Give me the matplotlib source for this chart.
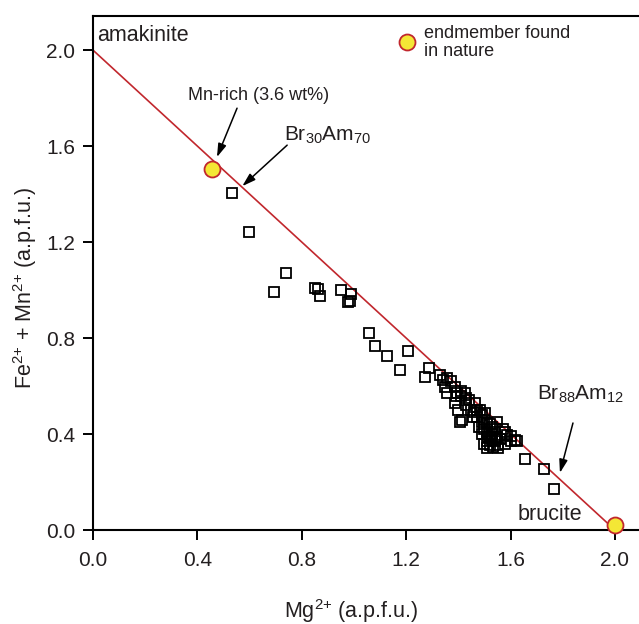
import matplotlib
matplotlib.use("Agg")
import matplotlib.pyplot as plt

plt.rcParams["font.family"] = ["Liberation Sans", "DejaVu Sans"]
plt.rcParams["mathtext.default"] = "regular"

TEXT_COLOR = "#231f20"
LINE_RED = "#c1272d"
YELLOW = "#f4e735"

# Mg vs Fe+Mn (a.p.f.u.) for the analysed grains
mg_apfu = [0.533, 0.598, 0.740, 0.694, 0.850, 0.862, 0.870, 0.950, 0.988, 0.977,
           0.985, 1.058, 1.080, 1.126, 1.207, 1.176, 1.287, 1.272, 1.330, 1.356,
           1.349, 1.356, 1.387, 1.395, 1.387, 1.425, 1.410, 1.464, 1.456, 1.406,
           1.414, 1.483, 1.502, 1.510, 1.548, 1.513, 1.529, 1.548, 1.579, 1.586,
           1.617, 1.521, 1.552, 1.510, 1.533, 1.655, 1.728, 1.766, 1.440, 1.470,
           1.490, 1.500, 1.520, 1.540, 1.430, 1.500, 1.530, 1.560, 1.580, 1.490,
           1.510, 1.550, 1.600, 1.410, 1.370, 1.450, 1.400, 1.340, 1.625, 1.470,
           1.490, 1.510, 1.530, 1.500, 1.540, 1.520, 1.480, 1.460, 1.430, 1.390,
           1.570, 1.600]
femn_apfu = [1.405, 1.240, 1.072, 0.990, 1.008, 1.004, 0.975, 1.000, 0.983, 0.950,
             0.955, 0.821, 0.767, 0.725, 0.744, 0.667, 0.675, 0.638, 0.645, 0.633,
             0.596, 0.571, 0.596, 0.571, 0.529, 0.571, 0.560, 0.529, 0.471, 0.450,
             0.458, 0.500, 0.487, 0.446, 0.450, 0.388, 0.375, 0.388, 0.408, 0.396,
             0.375, 0.354, 0.354, 0.342, 0.346, 0.296, 0.254, 0.171, 0.540, 0.500,
             0.480, 0.460, 0.440, 0.420, 0.520, 0.420, 0.400, 0.380, 0.360, 0.400,
             0.370, 0.340, 0.370, 0.580, 0.620, 0.500, 0.500, 0.625, 0.370, 0.470,
             0.450, 0.410, 0.430, 0.360, 0.370, 0.390, 0.430, 0.490, 0.550, 0.560,
             0.420, 0.390]

# ideal brucite-amakinite join
join_mg = [0.0, 2.0]
join_femn = [2.0, 0.0]

# endmembers found in nature
nature_mg = [0.455, 2.0]
nature_femn = [1.503, 0.02]

ticks = [0.0, 0.4, 0.8, 1.2, 1.6, 2.0]

fig = plt.figure(figsize=(6.39, 6.24), dpi=100)
ax = fig.add_axes([0.1455, 0.1506, 0.8545, 0.8237])

ax.plot(join_mg, join_femn, color=LINE_RED, lw=1.2, zorder=2)
ax.plot(mg_apfu, femn_apfu, ls="none", marker="s", ms=7.5, mfc="none",
        mec="black", mew=1.3, zorder=3)
ax.plot(nature_mg, nature_femn, ls="none", marker="o", ms=11.5, mfc=YELLOW,
        mec=LINE_RED, mew=1.3, zorder=5, clip_on=False)

# legend entry
ax.plot([1.203], [2.033], ls="none", marker="o", ms=11.5, mfc=YELLOW,
        mec=LINE_RED, mew=1.3, zorder=5)
ax.text(1.27, 2.031, "endmember found\nin nature", fontsize=13, color=TEXT_COLOR,
        va="center", ha="left", linespacing=1.1)

ax.text(0.015, 2.06, "amakinite", fontsize=15.5, color=TEXT_COLOR, ha="left", va="center")
ax.text(1.625, 0.063, "brucite", fontsize=15.5, color=TEXT_COLOR, ha="left", va="center")

arrow = dict(arrowstyle="-|>,head_length=0.8,head_width=0.25", color="black", lw=1.1,
             shrinkA=0, shrinkB=0)
ax.text(0.636, 1.812, "Mn-rich (3.6 wt%)", fontsize=13, color=TEXT_COLOR,
        ha="center", va="center")
ax.annotate("", xy=(0.475, 1.554), xytext=(0.552, 1.758), arrowprops=arrow)
ax.annotate("", xy=(0.572, 1.433), xytext=(0.744, 1.604), arrowprops=arrow)
ax.text(0.73, 1.60, "Br$_{30}$Am$_{70}$", fontsize=15, color=TEXT_COLOR,
        ha="left", va="bottom")
ax.annotate("", xy=(1.789, 0.238), xytext=(1.839, 0.446), arrowprops=arrow)
ax.text(1.70, 0.52, "Br$_{88}$Am$_{12}$", fontsize=15, color=TEXT_COLOR,
        ha="left", va="bottom")

ax.set_xlim(0, 2.092)
ax.set_ylim(0, 2.142)
ax.set_xticks(ticks)
ax.set_yticks(ticks)
ax.set_xticklabels([f"{t:.1f}" for t in ticks])
ax.set_yticklabels([f"{t:.1f}" for t in ticks])
ax.tick_params(direction="out", length=7, width=1.4, labelsize=15,
               colors="black", labelcolor=TEXT_COLOR)
ax.tick_params(axis="x", pad=8)
ax.tick_params(axis="y", pad=6)
ax.spines["right"].set_visible(False)
for side in ("left", "top", "bottom"):
    ax.spines[side].set_linewidth(1.5)

# axis titles placed in figure pixels
W, H = 639, 624
fig.text(351 / W, 1 - 611 / H, "Mg$^{2{+}}$ (a.p.f.u.)", fontsize=15.5,
         color=TEXT_COLOR, ha="center", va="center")
fig.text(25 / W, 1 - 288 / H, "Fe$^{2{+}}$ + Mn$^{2{+}}$ (a.p.f.u.)", fontsize=15.5,
         color=TEXT_COLOR, ha="center", va="center", rotation=90)

fig.savefig("out.png", dpi=100)
